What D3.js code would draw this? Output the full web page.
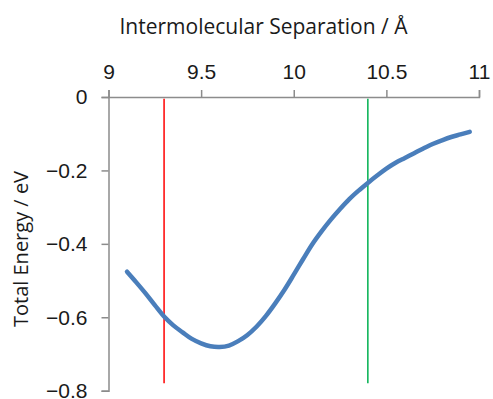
<!DOCTYPE html>
<html>
<head>
<meta charset="utf-8">
<script src="https://cdn.jsdelivr.net/npm/d3@7"></script>
<style>
  body { margin: 0; background: #fff; }
  svg { display: block; font-family: "Open Sans", sans-serif; }
</style>
</head>
<body>
<div class="chart"></div>
<script>
// separation (Å) vs total energy (eV)
var separation = [9.10, 9.15, 9.20, 9.25, 9.30, 9.35, 9.40, 9.45, 9.50, 9.55,
    9.60, 9.65, 9.70, 9.75, 9.80, 9.85, 9.90, 9.95, 10.00, 10.05,
    10.10, 10.15, 10.20, 10.25, 10.30, 10.35, 10.40, 10.45, 10.50, 10.55,
    10.60, 10.65, 10.70, 10.75, 10.80, 10.85, 10.90, 10.95];
var energy = [-0.476, -0.505, -0.535, -0.567, -0.598, -0.622, -0.641, -0.659, -0.671, -0.679,
    -0.681, -0.677, -0.665, -0.648, -0.625, -0.596, -0.562, -0.525, -0.484, -0.442,
    -0.401, -0.366, -0.334, -0.305, -0.278, -0.255, -0.234, -0.214, -0.195, -0.179,
    -0.166, -0.153, -0.140, -0.128, -0.118, -0.109, -0.102, -0.095];

var xTicks = [9, 9.5, 10, 10.5, 11];
var yTicks = [0, -0.2, -0.4, -0.6, -0.8];
var markers = [9.3, 10.4];
var markerColors = ["#ff0000", "#00b050"];

var w = 493;
var h = 399;

var scaleX = d3.scaleLinear()
    .domain([9, 11])
    .range([108.5, 479]);

var scaleY = d3.scaleLinear()
    .domain([0, -0.8])
    .range([97, 390.7]);

const svg = d3.select(".chart")
    .append("svg")
    .attr("width", w)
    .attr("height", h);

// axes
var axisX = d3.axisTop(scaleX)
    .tickValues(xTicks)
    .tickSize(7)
    .tickSizeOuter(7)
    .tickPadding(11)
    .tickFormat(d => d);

svg.append("g")
    .attr("transform", "translate(0," + scaleY(0) + ")")
    .call(axisX);

var axisY = d3.axisLeft(scaleY)
    .tickValues(yTicks)
    .tickSize(7)
    .tickSizeOuter(7)
    .tickPadding(14)
    .tickFormat(d => d === 0 ? "0" : d3.format(".1f")(d).replace("-", "\u2212"));

svg.append("g")
    .attr("transform", "translate(" + scaleX(9) + ",0)")
    .call(axisY);

svg.selectAll(".domain, .tick line")
    .attr("stroke", "#8c8c8c")
    .attr("stroke-width", 1.5);

svg.selectAll(".tick text")
    .attr("fill", "#1a1a1a")
    .style("font-size", "21px");

// vertical marker lines
svg.selectAll(".marker")
    .data(markers)
    .enter()
    .append("line")
    .attr("class", "marker")
    .attr("x1", d => scaleX(d))
    .attr("x2", d => scaleX(d))
    .attr("y1", scaleY(-0.005))
    .attr("y2", scaleY(-0.78))
    .attr("stroke", (d, i) => markerColors[i])
    .attr("stroke-width", 1.5);

// energy curve
var points = separation.map((s, i) => [s, energy[i]]);

var line = d3.line()
    .x(d => scaleX(d[0]))
    .y(d => scaleY(d[1]))
    .curve(d3.curveCatmullRom);

svg.append("path")
    .datum(points)
    .attr("d", line)
    .attr("fill", "none")
    .attr("stroke", "#4a7ebb")
    .attr("stroke-width", 4.5)
    .attr("stroke-linecap", "round")
    .attr("stroke-linejoin", "round");

// titles
svg.append("text")
    .attr("x", 263.5)
    .attr("y", 34)
    .attr("text-anchor", "middle")
    .attr("fill", "#1a1a1a")
    .style("font-size", "21px")
    .text("Intermolecular Separation / \u00c5");

svg.append("text")
    .attr("transform", "translate(28,249) rotate(-90)")
    .attr("text-anchor", "middle")
    .attr("fill", "#1a1a1a")
    .style("font-size", "20px")
    .text("Total Energy / eV");
</script>
</body>
</html>
